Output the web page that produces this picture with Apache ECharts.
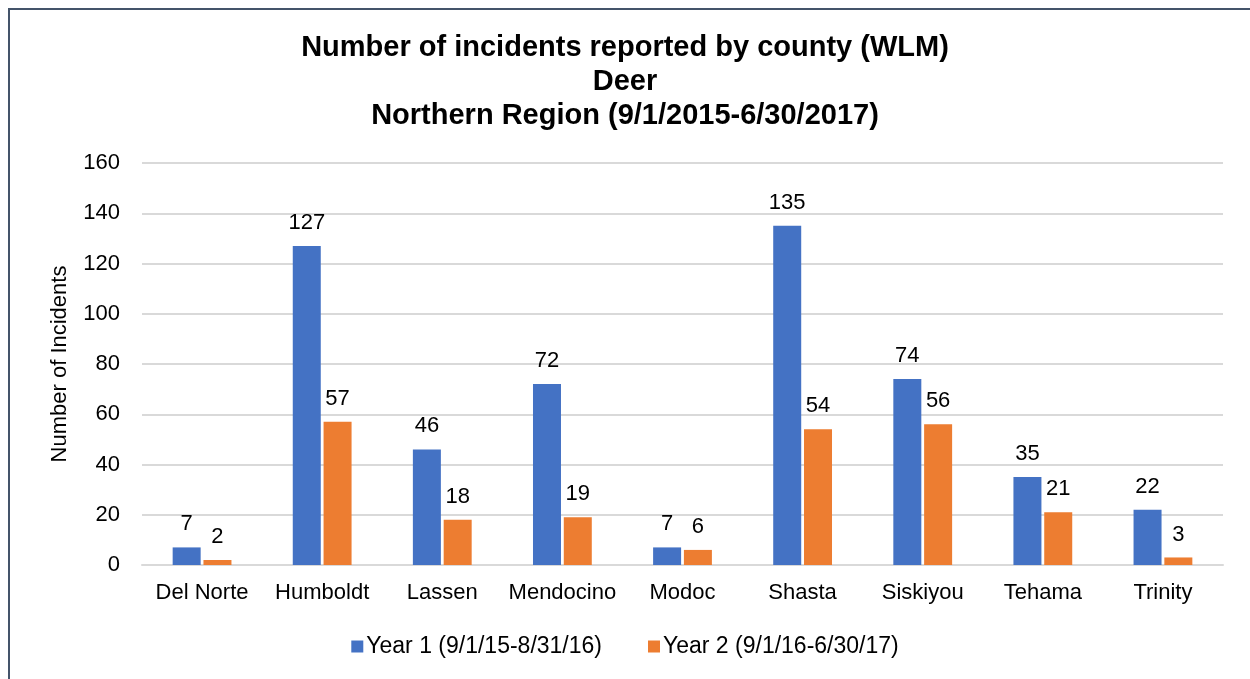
<!DOCTYPE html>
<html>
<head>
<meta charset="utf-8">
<script src="https://cdn.jsdelivr.net/npm/echarts@6/dist/echarts.min.js"></script>
<style>
  html, body { margin: 0; padding: 0; background: #fff; }
  #chart { width: 1250px; height: 679px; }
</style>
</head>
<body>
<div id="chart"></div>
<script>
// 数据
const counties = ['Del Norte', 'Humboldt', 'Lassen', 'Mendocino', 'Modoc', 'Shasta', 'Siskiyou', 'Tehama', 'Trinity']
const year1 = [7, 127, 46, 72, 7, 135, 74, 35, 22]
const year2 = [2, 57, 18, 19, 6, 54, 56, 21, 3]
const seriesNames = ['Year 1 (9/1/15-8/31/16)', 'Year 2 (9/1/16-6/30/17)']
const yTicks = [0, 20, 40, 60, 80, 100, 120, 140, 160]

const font = 'Liberation Sans, Arial, sans-serif'
const chart = echarts.init(document.getElementById('chart'))

const labelStyle = {
  show: true,
  position: 'top',
  distance: 12,
  color: '#000',
  fontSize: 22,
  fontFamily: font
}

chart.setOption({
  animation: false,
  title: {
    text: 'Number of incidents reported by county (WLM)\nDeer\nNorthern Region (9/1/2015-6/30/2017)',
    left: 'center',
    top: 26,
    textStyle: {
      fontSize: 29,
      fontWeight: 'bold',
      fontFamily: font,
      color: '#000',
      lineHeight: 34
    }
  },
  // 外框
  graphic: [{
    type: 'rect',
    shape: { x: 9, y: 9, width: 1300, height: 700 },
    style: { fill: 'none', stroke: '#44546a', lineWidth: 2 },
    silent: true
  }],
  legend: {
    bottom: 16,
    left: 'center',
    itemWidth: 12,
    itemHeight: 12,
    itemGap: 46,
    icon: 'rect',
    textStyle: { fontSize: 23, fontFamily: font, color: '#000', padding: [0, 0, 0, -2] },
    data: seriesNames
  },
  grid: {
    left: 142,
    right: 27,
    top: 163,
    bottom: 114
  },
  xAxis: {
    type: 'category',
    data: counties,
    axisTick: { show: false },
    axisLine: { lineStyle: { color: '#d9d9d9', width: 2 } },
    axisLabel: { interval: 0, fontSize: 22, fontFamily: font, color: '#000', margin: 17 }
  },
  yAxis: {
    type: 'value',
    min: yTicks[0],
    max: yTicks[yTicks.length - 1],
    interval: 20,
    name: 'Number of Incidents',
    nameLocation: 'middle',
    nameGap: 71,
    nameRotate: 90,
    nameTextStyle: { fontSize: 22, fontFamily: font, color: '#000' },
    axisLine: { show: false },
    axisTick: { show: false },
    axisLabel: { fontSize: 22, fontFamily: font, color: '#000', margin: 22 },
    splitLine: { lineStyle: { color: '#d9d9d9', width: 2 } }
  },
  series: [
    {
      name: seriesNames[0],
      type: 'bar',
      data: year1,
      barWidth: 28,
      barGap: '10%',
      itemStyle: { color: '#4472c4' },
      label: labelStyle
    },
    {
      name: seriesNames[1],
      type: 'bar',
      data: year2,
      barWidth: 28,
      barGap: '10%',
      itemStyle: { color: '#ed7d31' },
      label: labelStyle
    }
  ]
})
</script>
</body>
</html>
